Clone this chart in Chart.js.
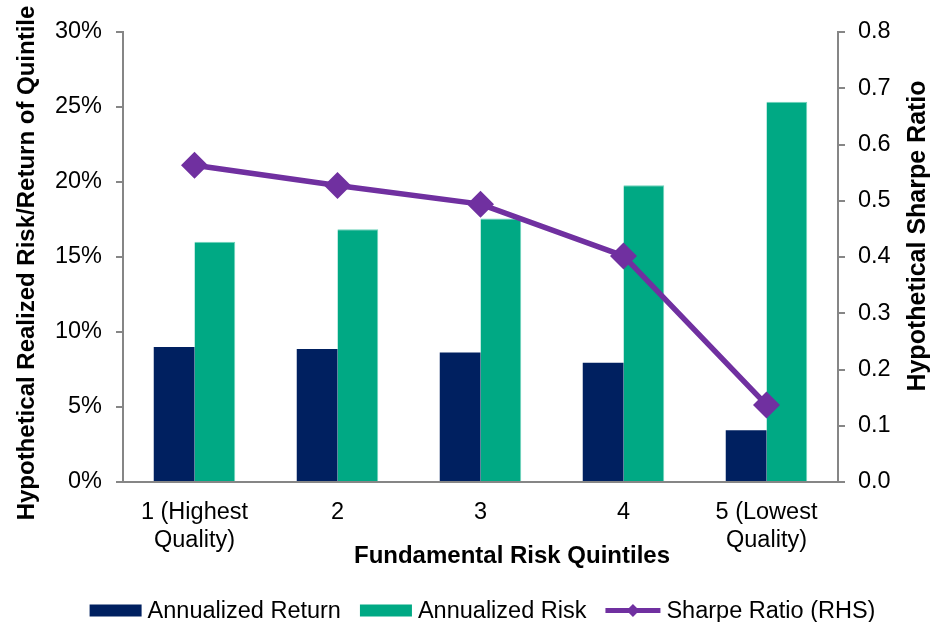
<!DOCTYPE html>
<html>
<head>
<meta charset="utf-8">
<title>Fundamental Risk Quintiles</title>
<script src="https://cdn.jsdelivr.net/npm/chart.js@4.4.1/dist/chart.umd.min.js"></script>
<style>
  html, body { margin: 0; padding: 0; background: #fff; }
  #wrap { width: 944px; height: 622px; }
</style>
</head>
<body>
<div id="wrap"><canvas id="quintileChart" width="944" height="622"></canvas></div>
<script>
// Quintile data
const quintiles = [['1 (Highest', 'Quality)'], '2', '3', '4', ['5 (Lowest', 'Quality)']];
const annualizedReturn = [9.0, 8.86, 8.64, 7.95, 3.45];   // %
const annualizedRisk = [16.02, 16.85, 17.56, 19.79, 25.35]; // %
const sharpeRatio = [0.563, 0.527, 0.494, 0.402, 0.137];

// Axis ticks
const returnTicks = [0, 5, 10, 15, 20, 25, 30];
const sharpeTicks = [0, 0.1, 0.2, 0.3, 0.4, 0.5, 0.6, 0.7, 0.8];

const NAVY = '#002060';
const GREEN = '#00A984';
const PURPLE = '#7030A0';
const AXIS_GREY = '#868686';
const FONT = '"Liberation Sans", Arial, sans-serif';

Chart.defaults.font.family = FONT;
Chart.defaults.color = '#000';

// Axis titles, drawn by hand so they can sit where they belong
const axisTitles = {
  id: 'axisTitles',
  afterDraw(chart) {
    const ctx = chart.ctx;
    ctx.save();
    ctx.fillStyle = '#000';
    ctx.textAlign = 'center';
    ctx.textBaseline = 'middle';
    ctx.font = 'bold 24px ' + FONT;
    ctx.fillText('Fundamental Risk Quintiles', 512, 556);

    ctx.save();
    ctx.translate(27, 263);
    ctx.rotate(-Math.PI / 2);
    ctx.fillText('Hypothetical Realized Risk/Return of Quintile', 0, 0);
    ctx.restore();

    ctx.save();
    ctx.font = 'bold 25px ' + FONT;
    ctx.translate(918, 236);
    ctx.rotate(-Math.PI / 2);
    ctx.fillText('Hypothetical Sharpe Ratio', 0, 0);
    ctx.restore();
    ctx.restore();
  }
};

// Bottom legend: bar swatches and a line-with-diamond sample
const bottomLegend = {
  id: 'bottomLegend',
  afterDraw(chart) {
    const ctx = chart.ctx;
    const y = 610.5;
    ctx.save();
    ctx.font = '23.5px ' + FONT;
    ctx.textBaseline = 'middle';
    const items = chart.data.datasets.map(ds => ({
      ds,
      sw: ds.type === 'line' ? 55 : 52,
      tw: ctx.measureText(ds.label).width
    }));
    const gapText = 6, gapItem = 19;
    let total = 0;
    items.forEach((it, i) => { total += it.sw + gapText + it.tw + (i ? gapItem : 0); });
    let x = 482.5 - total / 2;
    items.forEach(it => {
      if (it.ds.type === 'line') {
        ctx.strokeStyle = it.ds.borderColor;
        ctx.lineWidth = 5;
        ctx.beginPath();
        ctx.moveTo(x, y);
        ctx.lineTo(x + it.sw, y);
        ctx.stroke();
        const cx = x + it.sw / 2, r = 6.5;
        ctx.fillStyle = it.ds.borderColor;
        ctx.beginPath();
        ctx.moveTo(cx, y - r);
        ctx.lineTo(cx + r, y);
        ctx.lineTo(cx, y + r);
        ctx.lineTo(cx - r, y);
        ctx.closePath();
        ctx.fill();
      } else {
        ctx.fillStyle = it.ds.backgroundColor;
        ctx.fillRect(x, y - 6, it.sw, 12);
      }
      ctx.fillStyle = '#000';
      ctx.fillText(it.ds.label, x + it.sw + gapText, y + 1);
      x += it.sw + gapText + it.tw + gapItem;
    });
    ctx.restore();
  }
};

new Chart(document.getElementById('quintileChart'), {
  type: 'bar',
  data: {
    labels: quintiles,
    datasets: [
      {
        label: 'Annualized Return',
        data: annualizedReturn,
        backgroundColor: NAVY,
        yAxisID: 'y',
        order: 1,
        categoryPercentage: 0.57,
        barPercentage: 1.0
      },
      {
        label: 'Annualized Risk',
        data: annualizedRisk,
        backgroundColor: GREEN,
        borderColor: '#6fd3bb',
        borderWidth: { top: 1, right: 1, left: 0, bottom: 0 },
        yAxisID: 'y',
        order: 1,
        categoryPercentage: 0.57,
        barPercentage: 1.0
      },
      {
        type: 'line',
        label: 'Sharpe Ratio (RHS)',
        data: sharpeRatio,
        yAxisID: 'y1',
        order: 0,
        borderColor: PURPLE,
        backgroundColor: PURPLE,
        borderWidth: 5.5,
        pointStyle: 'rectRot',
        pointRadius: 13.5,
        pointBorderWidth: 0,
        pointBackgroundColor: PURPLE,
        tension: 0
      }
    ]
  },
  options: {
    responsive: false,
    animation: false,
    devicePixelRatio: 1,
    layout: { padding: { top: 32, left: 0, right: 0, bottom: 0 } },
    plugins: {
      legend: { display: false },
      tooltip: { enabled: false }
    },
    scales: {
      x: {
        grid: { display: false },
        border: { display: true, color: AXIS_GREY, width: 2 },
        ticks: {
          font: { size: 23.5, lineHeight: 1.17 },
          padding: 9,
          maxRotation: 0,
          autoSkip: false
        },
        afterFit: s => { s.height = 140; }
      },
      y: {
        position: 'left',
        min: 0,
        max: 30,
        afterBuildTicks: s => { s.ticks = returnTicks.map(v => ({ value: v })); },
        grid: { drawOnChartArea: false, drawTicks: true, tickLength: 7, color: AXIS_GREY, lineWidth: 2 },
        border: { display: true, color: AXIS_GREY, width: 2 },
        ticks: {
          font: { size: 23.5 },
          padding: 14,
          callback: v => v + '%'
        },
        afterFit: s => { s.width = 123; }
      },
      y1: {
        position: 'right',
        min: 0,
        max: 0.8,
        afterBuildTicks: s => { s.ticks = sharpeTicks.map(v => ({ value: v })); },
        grid: { drawOnChartArea: false, drawTicks: true, tickLength: 7, color: AXIS_GREY, lineWidth: 2 },
        border: { display: true, color: AXIS_GREY, width: 2 },
        ticks: {
          font: { size: 23.5 },
          padding: 13,
          callback: v => v.toFixed(1)
        },
        afterFit: s => { s.width = 106; }
      }
    }
  },
  plugins: [axisTitles, bottomLegend]
});
</script>
</body>
</html>
